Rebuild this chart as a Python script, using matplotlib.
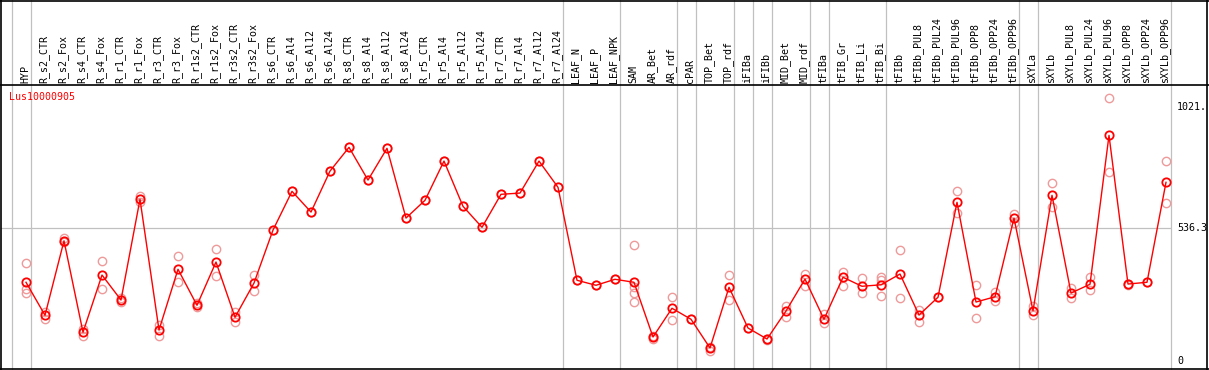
import matplotlib
matplotlib.use("Agg")
import matplotlib.pyplot as plt
from matplotlib.lines import Line2D

labels = ["HYP","R_s2_CTR","R_s2_Fox","R_s4_CTR","R_s4_Fox","R_r1_CTR","R_r1_Fox",
          "R_r3_CTR","R_r3_Fox","R_r1s2_CTR","R_r1s2_Fox","R_r3s2_CTR","R_r3s2_Fox",
          "R_s6_CTR","R_s6_Al4","R_s6_Al12","R_s6_Al24","R_s8_CTR","R_s8_Al4","R_s8_Al12",
          "R_s8_Al24","R_r5_CTR","R_r5_Al4","R_r5_Al12","R_r5_Al24","R_r7_CTR","R_r7_Al4",
          "R_r7_Al12","R_r7_Al24","LEAF_N","LEAF_P","LEAF_NPK","SAM","AR_Bet","AR_rdf",
          "cPAR","TOP_Bet","TOP_rdf","iFIBa","iFIBb","MID_Bet","MID_rdf","tFIBa","tFIB_Gr",
          "tFIB_Li","tFIB_Bi","tFIBb","tFIBb_PUL8","tFIBb_PUL24","tFIBb_PUL96","tFIBb_OPP8",
          "tFIBb_OPP24","tFIBb_OPP96","sXYLa","sXYLb","sXYLb_PUL8","sXYLb_PUL24",
          "sXYLb_PUL96","sXYLb_OPP8","sXYLb_OPP24","sXYLb_OPP96"]

means = [319,187,485,119,348,248,651,128,371,227,400,179,316,
         528,683,600,764,859,728,855,576,647,804,623,539,671,676,804,699,
         327,307,331,319,100,215,171,56,299,136,92,204,332,171,339,303,309,
         352,188,259,639,240,261,576,205,667,276,311,907,312,319,719]

reps = [[395,291,275],[201,173],[496,481],[131,104],[403,291],[255,239],[664,640],
        [148,105],[424,321],[235,219],[451,344],[201,161],[347,283],
        [528],[683],[600],[764],[859],[728],[855],[576],[647],[804],[623],[539],
        [671],[676],[804],[699],[327],[307],[331],
        [467,299,275,239],[104,91],[259,168],[171],[61,45],[347,247],[136],[94,90],
        [225,180],[352,305],[192,155],[361,303],[335,275],[340,328,264],
        [448,255],[208,161],[259],[684,595],[308,175],[281,245],[591,557],
        [224,188],[715,622],[296,255],[341,287],[1055,759],[314,310],[319],[803,635]]

group_edges = [-1,0,28,31,34,35,37,38,39,41,42,45,52,53,60]
ytick_vals = [0, 536.3, 1021.]
ytick_text = ["0", "536.3", "1021."]
title = "Lus10000905"

W, H = 1209, 370
fig = plt.figure(figsize=(W/100, H/100), dpi=100)
ax = fig.add_axes([0, 0, 1, 1])
sx = 19.0
sy = 0.2499
ax.set_xlim(-26/sx, (W-26)/sx)
ax.set_ylim(-(H-362)/sy, 362/sy)
ax.axis("off")

def px_y(p):
    return (362 - p)/sy
def px_x(p):
    return (p - 26)/sx

font = "DejaVu Sans Mono"
fs = 7.2
grid_c = "#c0c0c0"

for e in group_edges:
    ax.axvline(e + 4.6/sx, color=grid_c, lw=0.9, zorder=1)
ax.plot([px_x(1), px_x(1170)], [536.3, 536.3], color=grid_c, lw=0.9, zorder=1)

for i, rr in enumerate(reps):
    ax.plot([i]*len(rr), rr, linestyle="none", marker="o", ms=6.0, mfc="none",
            mec="#ee9a9a", mew=1.0, zorder=2)
xs = list(range(len(means)))
ax.plot(xs, means, color="#ff0000", lw=1.0, zorder=3)
ax.plot(xs, means, linestyle="none", marker="o", ms=6.0, mfc="none",
        mec="#ff0000", mew=1.3, zorder=4)

for i, lab in enumerate(labels):
    ax.text(i - 1/sx, px_y(83), lab, rotation=90, ha="center", va="bottom",
            fontsize=fs, family=font, color="black", zorder=5)

ax.text(px_x(9), px_y(97), title, ha="left", va="center", fontsize=fs,
        family=font, color="#ff0000", zorder=5)

for v, t in zip(ytick_vals, ytick_text):
    yy = v if v > 0 else px_y(361)
    ax.text(px_x(1177), yy, t, ha="left", va="center", fontsize=fs,
            family=font, color="black", zorder=5)

def fl(x0, y0, x1, y1, lw=1.2):
    fig.add_artist(Line2D([x0/W, x1/W], [1-y0/H, 1-y1/H], color="black", lw=lw,
                          transform=fig.transFigure))
fl(0, 0.5, W, 0.5)
fl(0, 85, W, 85)
fl(0, 369, W, 369)
fl(1, 0, 1, H)
fl(1207, 0, 1207, H)

fig.savefig("out.png", dpi=100)
